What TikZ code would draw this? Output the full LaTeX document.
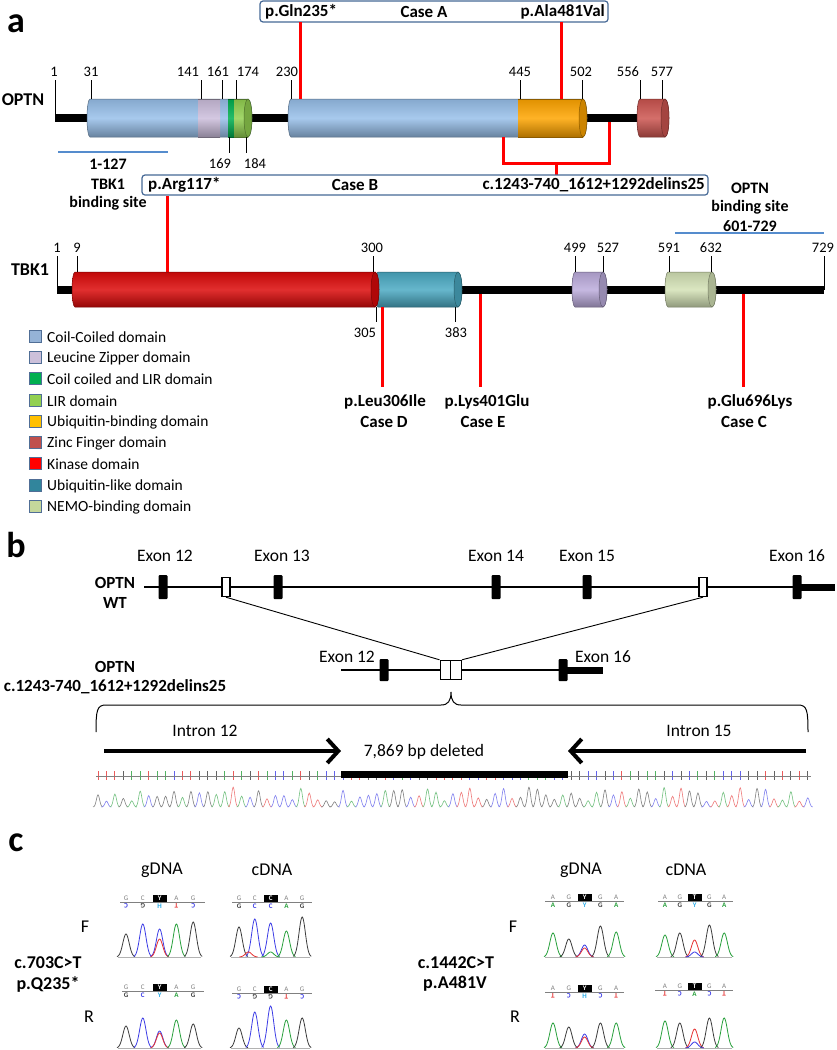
\documentclass[tikz,border=0pt]{standalone}
\usepackage{fontspec}
\setmainfont{Carlito}
\usetikzlibrary{arrows.meta}
\definecolor{coilblue}{RGB}{152,192,234}
\definecolor{lzlilac}{RGB}{204,190,220}
\definecolor{lirdark}{RGB}{0,176,80}
\definecolor{lirlight}{RGB}{146,208,80}
\definecolor{ubiorange}{RGB}{255,165,0}
\definecolor{zincred}{RGB}{205,85,80}
\definecolor{kinred}{RGB}{220,10,10}
\definecolor{ublteal}{RGB}{75,170,195}
\definecolor{tbklilac}{RGB}{188,172,220}
\definecolor{nemogreen}{RGB}{212,226,182}
\definecolor{boxblue}{RGB}{70,105,150}
\definecolor{bindblue}{RGB}{85,140,205}
\definecolor{legborder}{RGB}{80,110,150}
\definecolor{Lcoil}{RGB}{149,179,215}
\definecolor{Llz}{RGB}{204,192,218}
\definecolor{Lcl}{RGB}{0,176,80}
\definecolor{Llir}{RGB}{146,208,80}
\definecolor{Lubi}{RGB}{255,192,0}
\definecolor{Lzinc}{RGB}{192,80,77}
\definecolor{Lkin}{RGB}{255,0,0}
\definecolor{Lubl}{RGB}{49,133,156}
\definecolor{Lnemo}{RGB}{196,215,155}
\definecolor{tgray}{RGB}{60,60,60}
\definecolor{tblue}{RGB}{60,60,230}
\definecolor{tgreen}{RGB}{40,160,60}
\definecolor{tred}{RGB}{230,50,50}
\definecolor{tcyan}{RGB}{40,170,230}
\newcommand\fs[1]{\fontsize{#1}{#1}\selectfont}
\newcommand\cylbody[5]{%
 \shade[top color=#5!88!black, bottom color=#5!68!black, middle color=#5!85!white, draw=#5!55!black, line width=0.5pt]
 (#2,#3-#4) -- (#1+3,#3-#4) arc[start angle=270,end angle=90,x radius=3,y radius=#4] -- (#2,#3+#4) arc[start angle=90,end angle=-90,x radius=4,y radius=#4] -- cycle;}
\newcommand\cylpart[5]{%
 \shade[top color=#5!88!black, bottom color=#5!68!black, middle color=#5!85!white] (#1,#3-#4) rectangle (#2,#3+#4);
 \draw[#5!55!black, line width=0.5pt] (#1,#3-#4) -- (#2,#3-#4) (#1,#3+#4) -- (#2,#3+#4);}
\newcommand\cylcap[4]{\filldraw[fill=#4!80!black, draw=#4!55!black, line width=0.5pt] (#1,#2) ellipse [x radius=4, y radius=#3];}
% chromatogram peaks: #1 first x, #2 baseline, #3 spacing, #4 list p/h/color
\newcommand\chrom[4]{%
 \draw[gray!60, line width=0.8pt] (#1-8,#2) -- (#1+4*#3+8,#2);
 \foreach \p/\h/\cc in {#4} {%
  \pgfmathsetmacro\xc{#1+(\p-1)*#3}
  \draw[\cc, line width=0.8pt] plot[domain=-9:9, samples=25, smooth] ({\xc+\x},{#2-\h*exp(-(\x*\x)/20)});}}
% sequence strip: #1 x0, #2 x1, #3 line y, #4 first, #5 spacing, #6 top letters, #7 highlight idx, #8 bottom L/color/rot
\newcommand\seqstrip[8]{%
 \draw[gray, line width=0.8pt] (#1,#3) -- (#2,#3);
 \foreach \L [count=\k] in {#6} {%
  \pgfmathsetmacro\xx{#4+(\k-1)*#5}
  \ifnum\k=#7\relax
   \node[name=hl\k, fill=black, text=white, font=\bfseries\fs{7}, inner sep=0pt, minimum width=14pt, minimum height=7pt] at (\xx,#3-4) {\L};
  \else
   \node[name=tp\k, text=gray, font=\fs{7}, inner sep=0pt] at (\xx,#3-4) {\L};
  \fi}
 \foreach \L/\cc/\r [count=\k] in {#8} {%
  \pgfmathsetmacro\xx{#4+(\k-1)*#5}
  \node[name=bt\k, text=\cc, font=\bfseries\fs{7}, inner sep=0pt, rotate=\r] at (\xx,#3+4) {\L};}}
\pgfmathdeclarerandomlist{bases}{{tgray}{tblue}{tgreen}{tred}}
\tikzset{
 num/.style={font=\fs{14.5}, inner sep=0pt},
 lab/.style={font=\bfseries\fs{17}, inner sep=0pt},
 site/.style={font=\bfseries\fs{16}, inner sep=0pt},
 panel/.style={font=\bfseries\fs{36}, inner sep=0pt},
 tick/.style={line width=0.8pt},
 backbone/.style={line width=8pt},
 mut/.style={red, line width=3pt},
 casebox/.style={draw=boxblue, line width=1.2pt, rounded corners=3pt, fill=white},
 bindline/.style={draw=bindblue, line width=1.6pt},
 legsq/.style={draw=legborder, line width=1pt, minimum size=12pt, inner sep=0pt},
 legtxt/.style={font=\fs{15.5}, inner sep=0pt, anchor=west},
 exonlab/.style={font=\fs{17.5}, inner sep=0pt},
 exonblk/.style={fill=black, minimum width=9pt, minimum height=24pt, inner sep=0pt, rounded corners=1pt},
 openex/.style={draw=black, fill=white, line width=1.4pt, minimum width=8pt, minimum height=19pt, inner sep=0pt},
 bigarrow/.style={line width=4pt, -{Straight Barb[length=11pt,width=24pt]}},
 chromlab/.style={font=\fs{18}, inner sep=0pt},
 gene/.style={font=\bfseries\fs{17}, inner sep=0pt},
}
\begin{document}
\begin{tikzpicture}[x=1pt,y=-1pt]
\useasboundingbox (0,0) rectangle (836,1050);
\fill[white] (0,0) rectangle (836,1050);
% ================= panel a =================
\node[panel] (pa) at (16,24) {a};
% --- OPTN ---
\node[font=\bfseries\fs{18}, inner sep=0pt] (optn) at (23,100) {OPTN};
\draw[backbone] (55,118) -- (640,118);
\draw[tick] (55,80) -- (55,118);
\cylbody{87}{248}{118}{19}{coilblue}
\cylpart{198}{220}{118}{19}{lzlilac}
\cylpart{228}{234}{118}{19}{lirdark}
\cylpart{234}{248}{118}{19}{lirlight}
\cylcap{248}{118}{19}{lirlight}
\cylbody{288}{583}{118}{19}{coilblue}
\cylpart{518}{583}{118}{19}{ubiorange}
\cylcap{583}{118}{19}{ubiorange}
\cylbody{637}{665}{118}{19}{zincred}
\cylcap{665}{118}{19}{zincred}
\foreach \xp in {91,201,222,236,291,520,582,640,662}{
  \draw[tick] (\xp,80) -- (\xp,99);}
\foreach \xl/\t in {54/1,91/31,188/141,218/161,248/174,287/230,520/445,581/502,628/556,662/577}{
  \node[num, name=on\t] at (\xl,72) {\t};}
\foreach \xp in {229,246}{
  \draw[tick] (\xp,137) -- (\xp,153);}
\node[num] (on169) at (220,164) {169};
\node[num] (on184) at (255,164) {184};
% TBK1 binding site on OPTN
\draw[bindline] (58,152) -- (168,152);
\node[site] (s1) at (108,164) {1-127};
\node[site] (s2) at (108,184) {TBK1};
\node[site] (s3) at (108,203) {binding site};
% Case A
\node[casebox, minimum width=348pt, minimum height=21pt, inner sep=0pt] (caseA) at (434,11.5) {};
\node[lab, anchor=west] (qA1) at (265,12) {p.Gln235*};
\node[lab] (qA2) at (424,12) {Case A};
\node[lab, anchor=east] (qA3) at (605,12) {p.Ala481Val};
\draw[mut] (300,22) -- (300,99);
\draw[mut] (561,22) -- (561,99);
% deletion bracket
\draw[mut] (503,137) -- (503,163) -- (609,163) -- (609,122);
\draw[mut] (556,163) -- (556,175);
% Case B
\node[casebox, minimum width=566pt, minimum height=20pt, inner sep=0pt] (caseB) at (425,185) {};
\node[lab, anchor=west] (qB1) at (148,185) {p.Arg117*};
\node[lab] (qB2) at (355,185) {Case B};
\node[lab, anchor=east] (qB3) at (705,185) {c.1243-740\_1612+1292delins25};
\draw[mut] (167,196) -- (167,272);
% OPTN binding site on TBK1
\node[site] (t1) at (750,188) {OPTN};
\node[site] (t2) at (750,207) {binding site};
\node[site] (t3) at (750,226) {601-729};
\draw[bindline] (675,233) -- (824,233);
% --- TBK1 ---
\node[font=\bfseries\fs{18}, inner sep=0pt] (tbk) at (30,270) {TBK1};
\draw[backbone] (57,290) -- (824,290);
\draw[tick] (57,256) -- (57,290);
\draw[tick] (824,256) -- (824,290);
\cylbody{375}{458}{289.5}{17.5}{ublteal}
\cylcap{458}{289.5}{17.5}{ublteal}
\cylbody{72}{375}{289.5}{17.5}{kinred}
\cylcap{375}{289.5}{17.5}{kinred}
\cylbody{572}{603}{289.5}{17.5}{tbklilac}
\cylcap{603}{289.5}{17.5}{tbklilac}
\cylbody{665}{712}{289.5}{17.5}{nemogreen}
\cylcap{712}{289.5}{17.5}{nemogreen}
\foreach \xp in {77,373,575,603,669,711}{
  \draw[tick] (\xp,256) -- (\xp,272);}
\foreach \xl/\t in {57/1,77/9,372/300,575/499,608/527,669/591,711/632,823/729}{
  \node[num, name=tn\t] at (\xl,248) {\t};}
\draw[tick] (376,307) -- (376,322);
\draw[tick] (455,307) -- (455,322);
\node[num] (tn305) at (365,333) {305};
\node[num] (tn383) at (456,333) {383};
\draw[mut] (382,307) -- (382,387);
\draw[mut] (480,294) -- (480,387);
\draw[mut] (743,294) -- (743,387);
\node[lab] (mD1) at (385,402) {p.Leu306Ile};
\node[lab] (mD2) at (384,422) {Case D};
\node[lab] (mE1) at (487,402) {p.Lys401Glu};
\node[lab] (mE2) at (483,422) {Case E};
\node[lab] (mC1) at (750,402) {p.Glu696Lys};
\node[lab] (mC2) at (744,422) {Case C};
% legend
\foreach \yy/\cl/\t [count=\n] in {337/Lcoil/Coil-Coiled domain, 358/Llz/Leucine Zipper domain, 379/Lcl/Coil coiled and LIR domain, 401/Llir/LIR domain, 422/Lubi/Ubiquitin-binding domain, 443/Lzinc/Zinc Finger domain, 464/Lkin/Kinase domain, 486/Lubl/Ubiquitin-like domain, 507/Lnemo/NEMO-binding domain}{
  \node[legsq, fill=\cl, name=lq\n] at (35.5,\yy-1) {};
  \node[legtxt, name=lt\n] at (47,\yy) {\t};}
% ================= panel b =================
\node[panel] (pb) at (16,545) {b};
\foreach \xp/\t [count=\n] in {165/Exon 12,282/Exon 13,496/Exon 14,587/Exon 15,797/Exon 16}{
  \node[exonlab, name=el\n] at (\xp,556) {\t};}
\node[gene] (wt1) at (115,583) {OPTN};
\node[gene] (wt2) at (115,603) {WT};
\draw[line width=2.8pt] (144,587) -- (797,587);
\draw[line width=7pt] (797,587) -- (835,587);
\foreach \xp [count=\n] in {163,278,496,587,797}{
  \node[exonblk, name=ex\n] at (\xp,587) {};}
\node[openex] (wtL) at (226,587) {};
\node[openex] (wtR) at (703,587) {};
% mutant
\node[gene] (mu1) at (115,667) {OPTN};
\node[gene] (mu2) at (115,687) {c.1243-740\_1612+1292delins25};
\draw[line width=2.8pt] (341,670) -- (563,670);
\draw[line width=7pt] (563,670) -- (603,670);
\node[exonblk, minimum height=22pt] (mx1) at (384,670) {};
\node[exonblk, minimum height=22pt] (mx2) at (563,670) {};
\node[openex, minimum width=10.5pt] (mutL) at (445.5,670) {};
\node[openex, minimum width=10.5pt] (mutR) at (456,670) {};
\node[exonlab] (me1) at (347,657) {Exon 12};
\node[exonlab] (me2) at (603,657) {Exon 16};
\draw[line width=0.9pt] (wtL.south) -- (mutL.north west);
\draw[line width=0.9pt] (wtR.south) -- (mutR.north east);
% brace
\coordinate (br) at (451,692);
\draw[line width=1pt] (96,732) .. controls (96,710) and (97,705) .. (106,705) -- (441,705) .. controls (448,705) and (451,701) .. (br) .. controls (451,701) and (454,705) .. (461,705) -- (798,705) .. controls (807,705) and (808,710) .. (808,732);
\node[exonlab] (in12) at (205,731) {Intron 12};
\node[exonlab] (in15) at (699,731) {Intron 15};
\coordinate (a1s) at (104,751); \coordinate (a1e) at (341,751);
\coordinate (a2s) at (806,751); \coordinate (a2e) at (568,751);
\draw[bigarrow] (a1s) -- (a1e);
\draw[bigarrow] (a2s) -- (a2e);
\node[exonlab] (del) at (424,752) {7,869 bp deleted};
% sequence strip
\pgfmathsetseed{11}
\foreach \i in {0,...,84}{
  \pgfmathsetmacro\xx{98+\i*8.45}
  \pgfmathrandomitem{\cc}{bases}
  \draw[\cc!80!white, line width=1pt] (\xx,771) -- (\xx,780);}
\draw[gray, line width=0.6pt] (96,776) -- (811,776);
\fill[black] (341,771) rectangle (568,778);
\pgfmathsetseed{5}
\foreach \i in {0,...,84}{
  \pgfmathsetmacro\xx{98+\i*8.45}
  \pgfmathsetmacro\hh{5+15*rnd}
  \pgfmathrandomitem{\cc}{bases}
  \draw[\cc!65!white, line width=0.6pt] plot[domain=-5:5, samples=13, smooth] ({\xx+\x},{807-\hh*exp(-(\x*\x)/5)});}
% ================= panel c =================
\node[panel] (pc) at (16,843) {c};
\node[chromlab] (g1) at (162,870) {gDNA};
\node[chromlab] (c1) at (272,870) {cDNA};
\node[chromlab] (g2) at (581,870) {gDNA};
\node[chromlab] (c2) at (686,870) {cDNA};
\node[chromlab] (f1) at (85,927) {F};
\node[chromlab] (r1) at (89,1017) {R};
\node[chromlab] (f2) at (513,927) {F};
\node[chromlab] (r2) at (515,1017) {R};
\node[font=\bfseries\fs{18}, inner sep=0pt] (v1a) at (48,963) {c.703C>T};
\node[font=\bfseries\fs{18}, inner sep=0pt] (v1b) at (48,984) {p.Q235*};
\node[font=\bfseries\fs{18}, inner sep=0pt] (v2a) at (456,963) {c.1442C>T};
\node[font=\bfseries\fs{18}, inner sep=0pt] (v2b) at (455,984) {p.A481V};
% strips
\seqstrip{120}{205}{902}{126}{16.8}{G,C,Y,A,G}{3}{C/tblue/180,G/tgray/180,H/tcyan/0,T/tred/180,C/tblue/180}
\seqstrip{232}{312}{902}{239}{15.8}{G,C,C,A,G}{3}{G/tgray/0,C/tblue/0,C/tblue/0,A/tgreen/0,G/tgray/0}
\seqstrip{122}{204}{991}{126}{16.8}{G,C,Y,A,G}{3}{G/tgray/0,C/tblue/0,Y/tcyan/0,A/tgreen/0,G/tgray/0}
\seqstrip{232}{312}{993}{239}{15.8}{G,C,C,A,G}{3}{C/tblue/180,G/tgray/180,G/tgray/180,T/tred/180,C/tblue/180}
\seqstrip{545}{624}{901}{553}{15.8}{A,G,Y,G,A}{3}{A/tgreen/0,G/tgray/0,Y/tcyan/0,G/tgray/0,A/tgreen/0}
\seqstrip{658}{733}{901}{665}{14.8}{A,G,T,G,A}{3}{A/tgreen/0,G/tgray/0,Y/tcyan/0,G/tgray/0,A/tgreen/0}
\seqstrip{545}{624}{992}{553}{15.8}{A,G,Y,G,A}{3}{T/tred/180,C/tblue/180,H/tcyan/0,C/tblue/180,T/tred/180}
\seqstrip{655}{733}{990}{665}{14.8}{A,G,T,G,A}{3}{T/tred/180,C/tblue/180,A/tgreen/0,C/tblue/180,T/tred/180}
% traces
\chrom{126}{957}{16.8}{1/23/tgray,2/33/tblue,3/28/tblue,3/18/tred,4/33/tgreen,5/35/tgray}
\chrom{239}{957}{15.8}{1/30/tgray,2/38/tblue,3/34/tblue,3/5/tgreen,4/26/tgreen,5/40/tgray,1.6/5/tred}
\chrom{126}{1048}{16.8}{1/22/tgray,2/30/tblue,3/17/tblue,3/15/tred,4/28/tgreen,5/24/tgray}
\chrom{239}{1048}{15.8}{1/20/tgray,2/36/tblue,3/42/tblue,4/28/tgreen,5/30/tgray}
\chrom{553}{957}{15.8}{1/24/tgreen,2/18/tgray,3/12/tblue,3/9/tred,4/31/tgray,5/25/tgreen}
\chrom{665}{957}{14.8}{1/22/tgreen,2/24/tgray,3/17/tred,3/5/tblue,4/32/tgray,5/24/tgreen}
\chrom{553}{1048}{15.8}{1/25/tgreen,2/21/tgray,3/14/tblue,3/11/tred,4/25/tgray,5/25/tgreen}
\chrom{665}{1048}{14.8}{1/27/tgreen,2/25/tgray,3/19/tred,3/6/tblue,4/30/tgray,5/30/tgreen}
\end{tikzpicture}
\end{document}
